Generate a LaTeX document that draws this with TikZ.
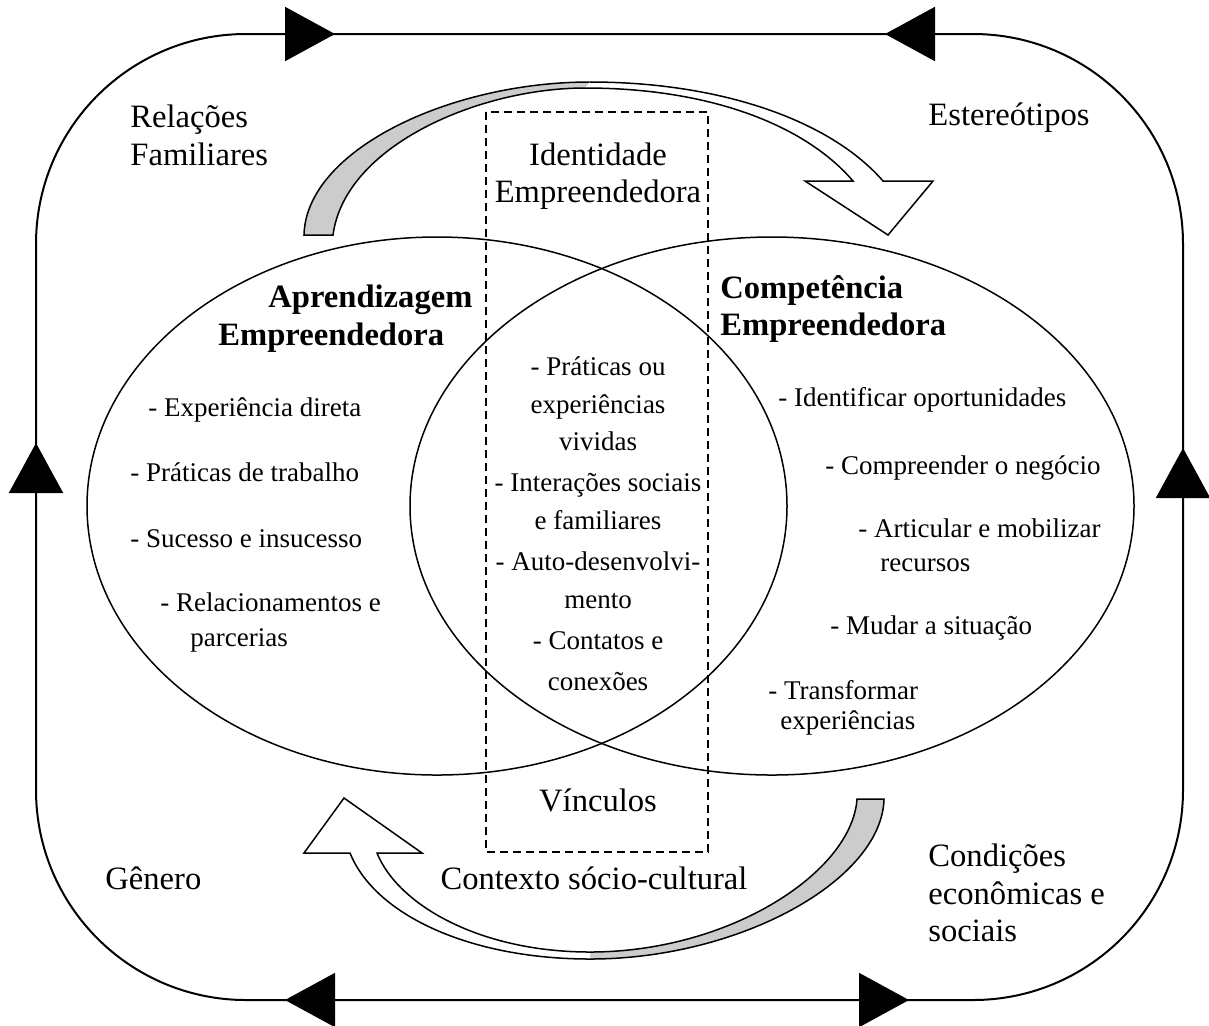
\documentclass[tikz,border=0pt]{standalone}
\usepackage{fontspec}
\setmainfont{Liberation Serif}
\usetikzlibrary{arrows.meta}
\newcommand\bigtext{\fontsize{16.3}{18.75}\selectfont}
\newcommand\smalltext{\fontsize{13.5}{16}\selectfont}
\tikzset{
    % Lines
    frame line/.style={line width=1pt},
    set line/.style={line width=0.75pt},
    identity box/.style={line width=0.6pt, dash pattern=on 4pt off 2.5pt},
    ribbon/.style={line width=0.75pt, line join=miter},
    ribbon back/.style={fill=black!20},
    ribbon front/.style={fill=white},
    %
    % Texts
    big label/.style={font=\bigtext, inner sep=0pt, anchor=base west},
    big centre/.style={font=\bigtext, inner sep=0pt, anchor=base},
    bold label/.style={font=\bigtext\bfseries, inner sep=0pt, anchor=base west},
    list item/.style={font=\smalltext, inner sep=0pt, anchor=base west},
    centre item/.style={font=\smalltext, inner sep=0pt, anchor=base},
    %
    % Arrows
    flow tip/.tip={Triangle[length=25pt, width=27pt]},
    flow/.style={-{flow tip}, frame line}
}

\begin{document}
\begin{tikzpicture}[x=0.5pt, y=-0.5pt]
    \useasboundingbox (0,0) rectangle (1209,1025);
    % outer cycle
    \draw[frame line, rounded corners=105pt] (36,34) rectangle (1183,1000);
    \draw[flow] (285,34) -- (335,34);
    \draw[flow] (935,34) -- (885,34);
    \draw[flow] (36,494) -- (36,443);
    \draw[flow] (1183,499) -- (1183,448);
    \draw[flow] (335,1000) -- (285,1000);
    \draw[flow] (860,1000) -- (909,1000);
    % the two sets and the identity box
    \draw[set line] (437,506) ellipse [x radius=350, y radius=269];
    \draw[set line] (772,506) ellipse [x radius=362, y radius=269];
    \draw[identity box] (486,112) rectangle (708,852);
    % curved arrow on top
    \fill[ribbon back] (304,235) .. controls (306,150) and (450,82) .. (590,82)
        -- (585,88) .. controls (480,88) and (345,145) .. (333,235) -- cycle;
    \draw[ribbon] (590,82) .. controls (450,82) and (306,150) .. (304,235)
        -- (333,235) .. controls (345,145) and (480,88) .. (585,88);
    \fill[ribbon front] (590,82) .. controls (720,82) and (830,120) .. (883,181)
        -- (933,181) -- (888,235) -- (805,181) -- (853,181)
        .. controls (805,125) and (710,88) .. (585,88) -- cycle;
    \draw[ribbon] (590,82) .. controls (720,82) and (830,120) .. (883,181)
        -- (933,181) -- (888,235) -- (805,181) -- (853,181)
        .. controls (805,125) and (710,88) .. (585,88);
    % curved arrow below
    \fill[ribbon back] (884,799) .. controls (882,880) and (740,959) .. (590,959)
        -- (590,952) .. controls (730,952) and (852,872) .. (857,799) -- cycle;
    \draw[ribbon] (590,959) .. controls (740,959) and (882,880) .. (884,799)
        -- (857,799) .. controls (852,872) and (730,952) .. (590,952);
    \fill[ribbon front] (590,959) .. controls (470,959) and (375,915) .. (350,853)
        -- (304,853) -- (344,798) -- (422,853) -- (377,853)
        .. controls (398,905) and (480,952) .. (590,952) -- cycle;
    \draw[ribbon] (590,959) .. controls (470,959) and (375,915) .. (350,853)
        -- (304,853) -- (344,798) -- (422,853) -- (377,853)
        .. controls (398,905) and (480,952) .. (590,952);
    % outer factors
    \node[big label] (relacoes) at (130,127) {Relações};
    \node[big label] (familiares) at (130,165) {Familiares};
    \node[big label] (estereotipos) at (928,125) {Estereótipos};
    \node[big label] (genero) at (105,889) {Gênero};
    \node[big label] (condicoes) at (928,866) {Condições};
    \node[big label] (economicas) at (928,904) {econômicas e};
    \node[big label] (sociais) at (928,941) {sociais};
    \node[big centre] (contexto) at (594,889) {Contexto sócio-cultural};
    % identity box
    \node[big centre] (identidade) at (598,165) {Identidade};
    \node[big centre] (identidade2) at (598,202) {Empreendedora};
    \node[big centre] (vinculos) at (598,811) {Vínculos};
    % learning
    \node[bold label] (aprendizagem) at (268,307) {Aprendizagem};
    \node[bold label] (aprendizagem2) at (218,345) {Empreendedora};
    \node[list item] (experiencia) at (148,416) {- Experiência direta};
    \node[list item] (praticas) at (130,481) {- Práticas de trabalho};
    \node[list item] (sucesso) at (130,547) {- Sucesso e insucesso};
    \node[list item] (relacionamentos) at (160,611) {- Relacionamentos e};
    \node[list item] (parcerias) at (190,646) {parcerias};
    % shared part
    \node[centre item] (vividas1) at (598,375) {- Práticas ou};
    \node[centre item] (vividas2) at (598,413) {experiências};
    \node[centre item] (vividas3) at (598,450) {vividas};
    \node[centre item] (interacoes1) at (598,491) {- Interações sociais};
    \node[centre item] (interacoes2) at (598,529) {e familiares};
    \node[centre item] (auto1) at (598,570) {- Auto-desenvolvi-};
    \node[centre item] (auto2) at (598,608) {mento};
    \node[centre item] (contatos1) at (598,649) {- Contatos e};
    \node[centre item] (contatos2) at (598,690) {conexões};
    % competence
    \node[bold label] (competencia) at (720,298) {Competência};
    \node[bold label] (competencia2) at (720,335) {Empreendedora};
    \node[list item] (identificar) at (778,406) {- Identificar oportunidades};
    \node[list item] (compreender) at (825,474) {- Compreender o negócio};
    \node[list item] (articular) at (858,537) {- Articular e mobilizar};
    \node[list item] (recursos) at (880,571) {recursos};
    \node[list item] (mudar) at (830,634) {- Mudar a situação};
    \node[list item] (transformar) at (768,699) {- Transformar};
    \node[list item] (transformar2) at (780,729) {experiências};
\end{tikzpicture}
\end{document}
